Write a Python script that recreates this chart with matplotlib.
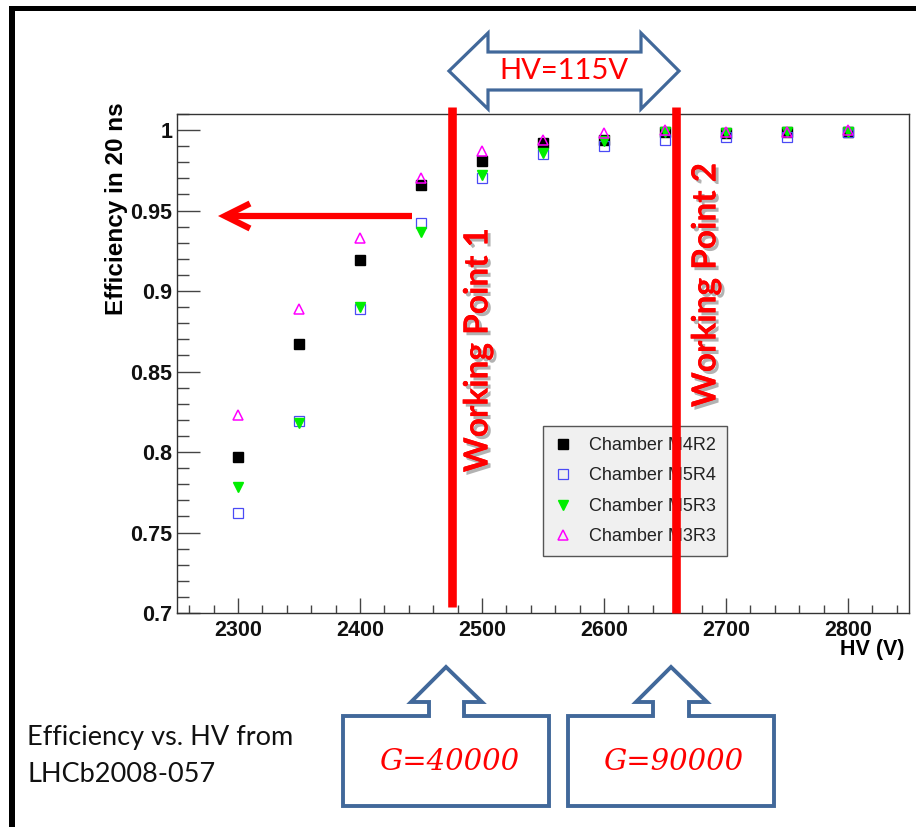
import matplotlib
matplotlib.use("Agg")
import matplotlib.pyplot as plt
import matplotlib.patheffects as pe
from matplotlib.patches import Polygon, Rectangle, FancyArrowPatch
from matplotlib.lines import Line2D
from matplotlib.ticker import MultipleLocator, FixedLocator

# ---------------- data ----------------
hv_volts = [2300, 2350, 2400, 2450, 2500, 2550, 2600, 2650, 2700, 2750, 2800]
eff_m4r2 = [0.797, 0.867, 0.919, 0.966, 0.981, 0.992, 0.994, 0.999, 0.998, 0.999, 0.999]
eff_m5r4 = [0.762, 0.819, 0.889, 0.942, 0.970, 0.985, 0.990, 0.994, 0.996, 0.996, 0.999]
eff_m5r3 = [0.778, 0.818, 0.890, 0.937, 0.972, 0.986, 0.993, 0.999, 0.998, 0.999, 0.999]
eff_m3r3 = [0.823, 0.889, 0.933, 0.970, 0.987, 0.994, 0.998, 1.000, 0.999, 0.999, 1.000]
series_labels = ["Chamber M4R2", "Chamber M5R4", "Chamber M5R3", "Chamber M3R3"]
x_ticks = [2300, 2400, 2500, 2600, 2700, 2800]
y_ticks = [0.7, 0.75, 0.8, 0.85, 0.9, 0.95, 1.0]
y_tick_labels = ["0.7", "0.75", "0.8", "0.85", "0.9", "0.95", "1"]

W, H = 916, 827


def fx(x):
    return x / W


def fy(y):
    return 1 - y / H


def pts(seq):
    return [(fx(a), fy(b)) for a, b in seq]


fig = plt.figure(figsize=(W / 100, H / 100), dpi=100)
fig.patch.set_facecolor("white")

ax = fig.add_axes([fx(177), fy(613), (909 - 177) / W, (613 - 114) / H])
ax.set_xlim(2250, 2850)
ax.set_ylim(0.7, 1.01)

ax.plot(hv_volts, eff_m4r2, ls="none", marker="s", ms=7.2, mfc="black", mec="black",
        label=series_labels[0], zorder=3)
ax.plot(hv_volts, eff_m5r4, ls="none", marker="s", ms=7.2, mfc="none", mec="#4a4af5",
        mew=0.9, label=series_labels[1], zorder=3)
ax.plot(hv_volts, eff_m5r3, ls="none", marker="v", ms=7.5, mfc="#00ee00", mec="#00ee00",
        label=series_labels[2], zorder=3)
ax.plot(hv_volts, eff_m3r3, ls="none", marker="^", ms=7.5, mfc="none", mec="#ff00ff",
        mew=1.1, label=series_labels[3], zorder=3)

ax.xaxis.set_major_locator(FixedLocator(x_ticks))
ax.xaxis.set_minor_locator(MultipleLocator(20))
ax.yaxis.set_major_locator(FixedLocator(y_ticks))
ax.yaxis.set_minor_locator(MultipleLocator(0.01))
ax.set_yticklabels(y_tick_labels)
ax.set_xticklabels([str(v) for v in x_ticks])
for lab in ax.get_xticklabels() + ax.get_yticklabels():
    lab.set_fontfamily("Liberation Sans")
    lab.set_fontweight("bold")
    lab.set_fontsize(15.5)
    lab.set_color("#111111")

ax.tick_params(axis="y", which="major", direction="in", length=16.5, width=1.0,
               color="#444444", left=True, right=False, pad=3.5)
ax.tick_params(axis="y", which="minor", direction="in", length=8.6, width=1.0,
               color="#444444", left=True, right=False)
ax.tick_params(axis="x", which="major", direction="in", length=10.8, width=1.0,
               color="#444444", bottom=True, top=False, pad=5)
ax.tick_params(axis="x", which="minor", direction="in", length=6, width=1.0,
               color="#444444", bottom=True, top=False)
for s in ax.spines.values():
    s.set_color("#333333")
    s.set_linewidth(1.0)

leg = ax.legend(loc="upper left", bbox_to_anchor=(fx(543), fy(426)),
                bbox_transform=fig.transFigure, borderaxespad=0, frameon=True,
                fancybox=False, facecolor="#f0f0f0", edgecolor="#555555", framealpha=1,
                prop=dict(family="Liberation Sans", size=13), handlelength=1.0,
                handletextpad=0.95, labelspacing=0.75, borderpad=0.6, numpoints=1)
leg.get_frame().set_linewidth(1.0)
for t in leg.get_texts():
    t.set_color("#222222")

# y / x titles
fig.text(fx(117), fy(209), "Efficiency in 20 ns", rotation=90, ha="center", va="center",
         family="Liberation Sans", weight="bold", size=17.5)
fig.text(fx(905), fy(650), "HV (V)", ha="right", va="center",
         family="Liberation Sans", weight="bold", size=15.5)

# ---------------- annotations ----------------
red = "#ff0000"
blue_outline = "#41689a"

# working point lines
for xx, y0, y1 in [(452, 107, 607), (676, 107, 613)]:
    fig.add_artist(Line2D([fx(xx), fx(xx)], [fy(y0), fy(y1)], color=red, lw=6.2,
                          solid_capstyle="butt", transform=fig.transFigure, zorder=5))

shadow = [pe.withSimplePatchShadow(offset=(2.2, -2.2), shadow_rgbFace="#555555", alpha=0.45),
          pe.Normal()]
fig.text(fx(478), fy(350), "Working Point 1", rotation=90, ha="center", va="center",
         color=red, family="Lato", weight="bold", size=24, path_effects=shadow, zorder=6)
fig.text(fx(706), fy(285), "Working Point 2", rotation=90, ha="center", va="center",
         color=red, family="Lato", weight="bold", size=24, path_effects=shadow, zorder=6)

# red horizontal arrow
arr = FancyArrowPatch(posA=(fx(412), fy(216)), posB=(fx(218), fy(216)),
                      arrowstyle="->,head_length=0.9,head_width=0.45", mutation_scale=20,
                      color=red, lw=4.5, transform=fig.transFigure, zorder=6,
                      shrinkA=0, shrinkB=0, joinstyle="miter", capstyle="butt")
fig.add_artist(arr)

# double arrow (HV=115V)
dbl = [(449, 71), (488, 33), (488, 52), (641, 52), (641, 33), (679, 71),
       (641, 109), (641, 90), (488, 90), (488, 109)]
fig.add_artist(Polygon(pts(dbl), closed=True, facecolor="white", edgecolor=blue_outline,
                       lw=2.3, transform=fig.transFigure, zorder=4, joinstyle="miter"))
fig.text(fx(564), fy(71), "HV=115V", ha="center", va="center", color=red,
         family="Lato", size=21, zorder=7)

# bottom callouts
box1 = [(343, 806), (343, 716), (429, 716), (429, 702), (411, 702), (446, 667),
        (482, 702), (464, 702), (464, 716), (549, 716), (549, 806)]
box2 = [(568, 806), (568, 716), (653, 716), (653, 702), (636, 702), (671, 667),
        (707, 702), (689, 702), (689, 716), (774, 716), (774, 806)]
for poly in (box1, box2):
    fig.add_artist(Polygon(pts(poly), closed=True, facecolor="white", edgecolor=blue_outline,
                           lw=2.8, transform=fig.transFigure, zorder=4, joinstyle="miter"))
fig.text(fx(449), fy(762), "G=40000", ha="center", va="center", color=red,
         family="DejaVu Serif", style="italic", size=21, zorder=7)
fig.text(fx(673), fy(762), "G=90000", ha="center", va="center", color=red,
         family="DejaVu Serif", style="italic", size=21, zorder=7)

# bottom-left note
fig.text(fx(27), fy(738), "Efficiency vs. HV from", ha="left", va="center",
         family="Lato", size=19.5, color="#111111")
fig.text(fx(27), fy(774), "LHCb2008-057", ha="left", va="center",
         family="Lato", size=19.5, color="#111111")

# black frame (top and left)
fig.add_artist(Rectangle((fx(9), fy(11)), (W - 9) / W, 5 / H, facecolor="black",
                         edgecolor="none", transform=fig.transFigure, zorder=10))
fig.add_artist(Rectangle((fx(9), 0), 6 / W, fy(6), facecolor="black",
                         edgecolor="none", transform=fig.transFigure, zorder=10))

fig.savefig("out.png", dpi=100)
